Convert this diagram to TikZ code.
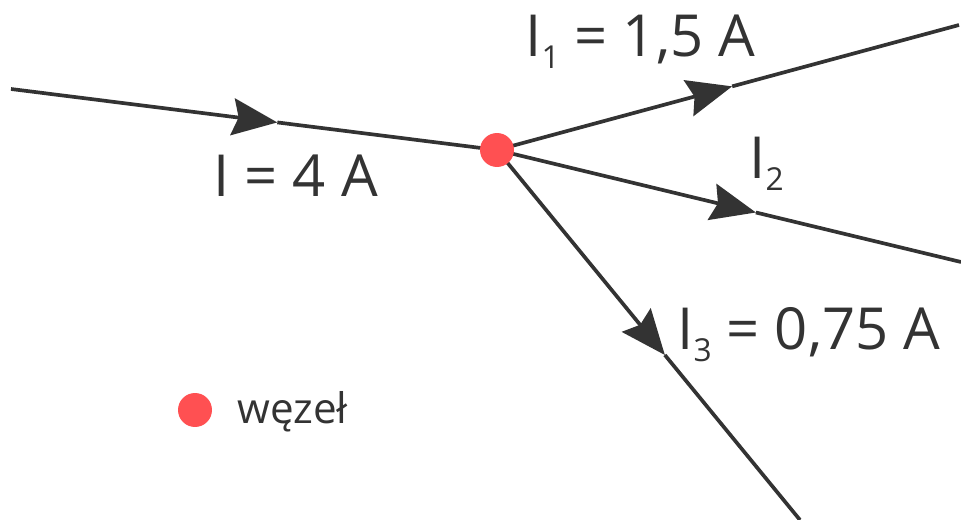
\documentclass[tikz,border=0pt]{standalone}
\usepackage{fontspec}
\setmainfont{Open Sans}
\usetikzlibrary{arrows.meta,calc}

\definecolor{ink}{HTML}{333333}
\definecolor{knot}{HTML}{FF5052}
\newcommand\idx[1]{\raisebox{-0.2em}{\fontsize{18}{20}\selectfont #1}}

\begin{document}
\begin{tikzpicture}[
  x=0.02cm, y=-0.02cm,
  >={Stealth[length=9mm, width=7.4mm, inset=1.2mm]},
  wire/.style={line width=2.1pt, draw=ink},
  dot/.style={circle, fill=knot, minimum size=6.8mm, inner sep=0},
  lbl/.style={text=ink, anchor=base west, inner sep=0, font=\fontsize{33}{40}\selectfont},
]
  \useasboundingbox (0,0) rectangle (961,520);
  \coordinate (j) at (497,150);
  \foreach \name/\x/\y in {in/11/89, o1/959/25, o2/961/262, o3/800/520}
    \coordinate (\name) at (\x, \y);

  % wires, each with its arrow part way along
  \foreach \a/\b/\f in {in/j/0.548, j/o1/0.509, j/o2/0.558, j/o3/0.554} {
    \coordinate (tip) at ($(\a)!\f!(\b)$);
    \draw[wire, ->] (\a) -- (tip);
    \draw[wire] (tip) -- (\b);
  }
  \node[dot] (junction) at (j) {};

  \node[lbl] (Iin) at (213,197) {I = 4 A};
  \node[lbl] (I1) at (525,57) {I\idx{1} = 1,5 A};
  \node[lbl] (I2) at (749,179) {I\idx{2}};
  \node[lbl] (I3) at (677,350) {I\idx{3} = 0,75 A};

  \node[dot] (legend) at (195,410) {};
  \node[lbl, font=\fontsize{24}{29}\selectfont] (key) at (237,423) {węzeł};
\end{tikzpicture}
\end{document}
